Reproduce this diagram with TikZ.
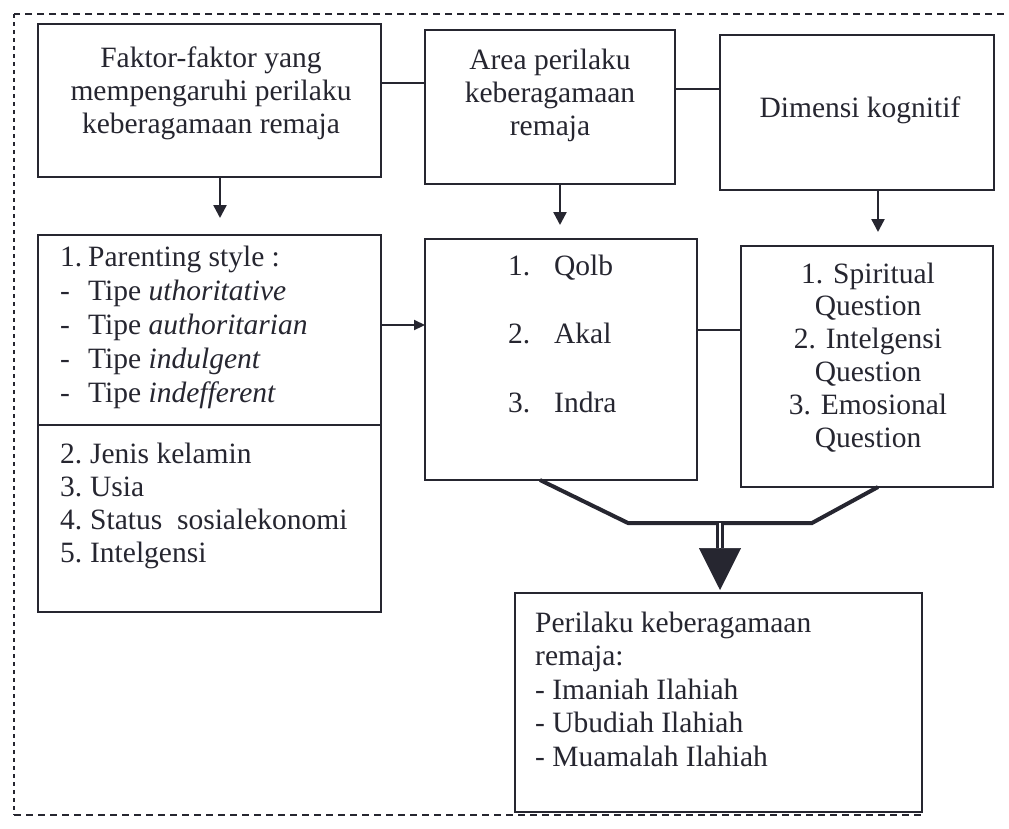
\documentclass[tikz,border=0pt]{standalone}
\usepackage{fontspec}
\setmainfont{Liberation Serif}
\usetikzlibrary{arrows.meta,calc}
\definecolor{ink}{RGB}{38,38,48}
\begin{document}
\begin{tikzpicture}[x=1pt,y=-1pt,
  box/.style={draw=ink,line width=1.6pt,inner sep=0pt,outer sep=0pt},
  txt/.style={font=\fontsize{29.5}{33}\selectfont,text=ink,inner sep=0pt},
  downarrow/.style={draw=ink,line width=2.4pt,-{Triangle[width=13pt,length=13pt]}},
  link/.style={draw=ink,line width=2.6pt},
  frame/.style={draw=ink,line width=1.4pt}
]
\useasboundingbox (0,0) rectangle (1009,828);
\fill[white] (0,0) rectangle (1009,828);

% dashed frame
\draw[frame,dash pattern=on 7pt off 5pt] (1004,14) -- (14,14);
\draw[frame,dash pattern=on 4pt off 4pt] (14,14) -- (14,815);
\draw[frame,dash pattern=on 7pt off 5pt] (14,815) -- (922,815);

% boxes
\node[box,minimum width=343pt,minimum height=153pt] (A) at (209.5,100.5) {};
\node[box,minimum width=250pt,minimum height=154pt] (B) at (550,107) {};
\node[box,minimum width=274pt,minimum height=155pt] (C) at (857,112.5) {};
\node[box,minimum width=343pt,minimum height=377pt] (D) at (209.5,423.5) {};
\node[box,minimum width=272pt,minimum height=241pt] (E) at (561,359.5) {};
\node[box,minimum width=252pt,minimum height=241pt] (F) at (867,366.5) {};
\node[box,minimum width=407pt,minimum height=219pt] (G) at (718.5,702.5) {};
\draw[box] ([yshift=-1.5pt]D.west) -- ([yshift=-1.5pt]D.east);

% texts (anchor base = baseline of the last line)
\node[txt,align=center,anchor=base] (tA) at (211,133)
  {Faktor-faktor yang\\mempengaruhi perilaku\\keberagamaan remaja};
\node[txt,align=center,anchor=base] (tB) at (550,135)
  {Area perilaku\\keberagamaan\\remaja};
\node[txt,anchor=base] (tC) at (860,117) {Dimensi kognitif};
\node[txt,align=left,anchor=base west,font=\fontsize{29.5}{33.8}\selectfont] (tD1) at (60,402)
  {\makebox[28pt][l]{1.}Parenting style :\\
   \makebox[28pt][l]{-}Tipe \textit{uthoritative}\\
   \makebox[28pt][l]{-}Tipe \textit{authoritarian}\\
   \makebox[28pt][l]{-}Tipe \textit{indulgent}\\
   \makebox[28pt][l]{-}Tipe \textit{indefferent}};
\node[txt,align=left,anchor=base west] (tD2) at (60,562)
  {\makebox[30pt][l]{2.}Jenis kelamin\\
   \makebox[30pt][l]{3.}Usia\\
   \makebox[30pt][l]{4.}Status\ \ sosialekonomi\\
   \makebox[30pt][l]{5.}Intelgensi};
\node[txt,align=left,anchor=base west,font=\fontsize{29.5}{68.5}\selectfont] (tE) at (508,412)
  {\makebox[46pt][l]{1.}Qolb\\
   \makebox[46pt][l]{2.}Akal\\
   \makebox[46pt][l]{3.}Indra};
\node[txt,align=center,anchor=base,font=\fontsize{29.5}{32.8}\selectfont] (tF) at (868,447)
  {1. Spiritual\\Question\\2. Intelgensi\\Question\\3. Emosional\\Question};
\node[txt,align=left,anchor=base west,font=\fontsize{29.5}{33.5}\selectfont] (tG) at (535,766)
  {Perilaku keberagamaan\\remaja:\\- Imaniah Ilahiah\\- Ubudiah Ilahiah\\- Muamalah Ilahiah};

% horizontal links
\draw[link] ([yshift=17.5pt]A.east) -- ([yshift=17.5pt]A.east -| B.west);
\draw[link] ([yshift=18pt]B.east) -- ([yshift=18pt]B.east -| C.west);
\draw[link] ([yshift=29.5pt]E.east) -- ([yshift=29.5pt]E.east -| F.west);
\draw[draw=ink,line width=2.2pt,-{Triangle[width=10pt,length=11pt]}]
  ([yshift=98.5pt]D.east) -- ([yshift=98.5pt]D.east -| E.west);

% down arrows
\draw[downarrow,shorten >=17pt] ([xshift=10.5pt]A.south) -- ([xshift=10.5pt]A.south |- D.north);
\draw[downarrow,shorten >=14pt] ([xshift=10pt]B.south) -- ([xshift=10pt]B.south |- E.north);
\draw[downarrow,shorten >=14pt] ([xshift=21pt]C.south) -- ([xshift=21pt]C.south |- F.north);

% funnel
\coordinate (fl) at (628,523);
\coordinate (fr) at (812,523);
\coordinate (fm) at (720,523);
\coordinate (fh) at (720,548);
\draw[draw=ink,line width=4pt,line join=miter]
  ([xshift=-21pt]E.south) -- (fl) -- (fr) -- ([xshift=11pt]F.south);
\draw[draw=ink,line width=3pt,double=white,double distance=2.5pt] (fm) -- (fh);
\draw[draw=ink,line width=0.5pt,-{Triangle[width=42pt,length=42pt]}]
  (fh) -- ([yshift=3pt]G.north -| fh);
\end{tikzpicture}
\end{document}
